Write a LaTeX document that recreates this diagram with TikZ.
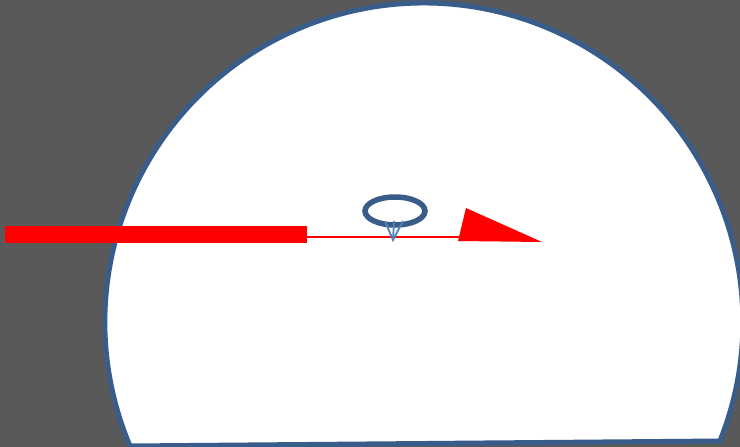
\documentclass[tikz,border=0pt]{standalone}
\usepackage{tikz}
\usetikzlibrary{calc}
\definecolor{bgray}{HTML}{595959}
\definecolor{rimblue}{HTML}{385D8A}
\definecolor{tipblue}{HTML}{4F81BD}
\tikzset{
  dome/.style={draw=rimblue, fill=white, line width=5pt, line join=miter},
  beam/.style={fill=red, draw=none},
  ray/.style={draw=red, line width=1.8pt},
  ring/.style={draw=rimblue, line width=5.5pt},
  vtip/.style={draw=tipblue, line width=1.8pt},
}
\begin{document}
\begin{tikzpicture}[x=1pt, y=-1pt]
  \fill[bgray] (0,0) rectangle (740,447);
  \useasboundingbox (0,0) rectangle (740,447);

  \coordinate (centre) at (424,322);
  \coordinate (chordL) at (130,446);
  \draw[dome] (chordL) arc[start angle=157.13, end angle=381.9, radius=319] -- cycle;

  \coordinate (beamend) at (307,237);
  \coordinate (headbase) at (460,237);
  \fill[beam] (5,226) rectangle (307,243);
  \draw[ray] (beamend) -- (headbase);
  \fill[beam] (466,208) -- (458,241) -- (542,242) -- cycle;

  \draw[ring] (395,211) ellipse[x radius=30, y radius=14];
  \coordinate (tip) at (393,240);
  \draw[vtip] (385,221) -- (tip) -- (403,221);
  \draw[vtip] (394,221) -- (tip);
\end{tikzpicture}
\end{document}
